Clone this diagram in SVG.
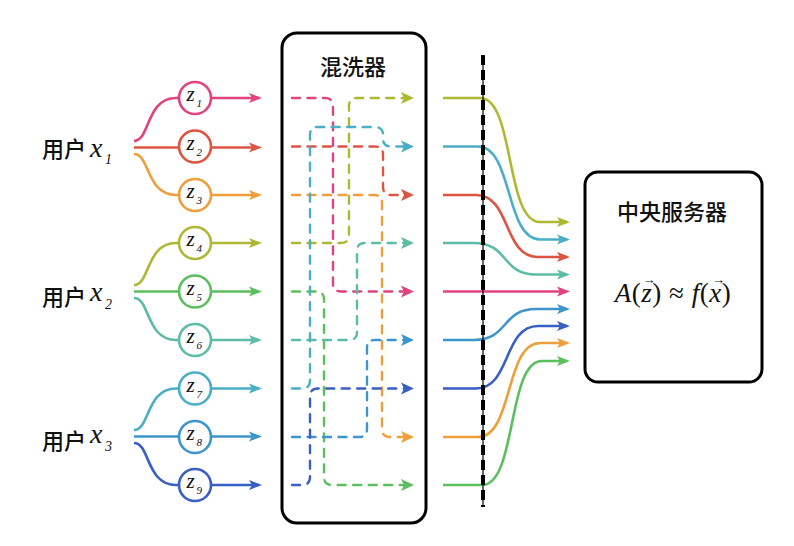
<svg xmlns="http://www.w3.org/2000/svg" width="794" height="546" viewBox="0 0 794 546">
<style>
.cjk{font-family:"Noto Sans CJK SC","Noto Sans",sans-serif;font-size:22px;font-weight:500;fill:#111}
.m{font-family:"Liberation Serif","DejaVu Serif",serif;font-style:italic;fill:#111}
.up{font-family:"Liberation Serif","DejaVu Serif",serif;fill:#111}
.c{fill:none;stroke-width:2.6}
.d{fill:none;stroke-width:2.4;stroke-dasharray:8 7.5;stroke-linecap:round;stroke-linejoin:round}
.node{fill:#fff;stroke-width:2.6}
.box{fill:#fff;stroke:#000;stroke-width:3}
</style>
<defs>
<marker id="a1" markerUnits="userSpaceOnUse" markerWidth="14" markerHeight="12" viewBox="0 0 14 12" refX="10" refY="6" orient="auto"><path d="M0,1 L13,6 L0,11 L3,6 Z" fill="#E0437E"/></marker>
<marker id="a2" markerUnits="userSpaceOnUse" markerWidth="14" markerHeight="12" viewBox="0 0 14 12" refX="10" refY="6" orient="auto"><path d="M0,1 L13,6 L0,11 L3,6 Z" fill="#DD5443"/></marker>
<marker id="a3" markerUnits="userSpaceOnUse" markerWidth="14" markerHeight="12" viewBox="0 0 14 12" refX="10" refY="6" orient="auto"><path d="M0,1 L13,6 L0,11 L3,6 Z" fill="#EE9E3A"/></marker>
<marker id="a4" markerUnits="userSpaceOnUse" markerWidth="14" markerHeight="12" viewBox="0 0 14 12" refX="10" refY="6" orient="auto"><path d="M0,1 L13,6 L0,11 L3,6 Z" fill="#ADB833"/></marker>
<marker id="a5" markerUnits="userSpaceOnUse" markerWidth="14" markerHeight="12" viewBox="0 0 14 12" refX="10" refY="6" orient="auto"><path d="M0,1 L13,6 L0,11 L3,6 Z" fill="#5CBF5E"/></marker>
<marker id="a6" markerUnits="userSpaceOnUse" markerWidth="14" markerHeight="12" viewBox="0 0 14 12" refX="10" refY="6" orient="auto"><path d="M0,1 L13,6 L0,11 L3,6 Z" fill="#5CBCA6"/></marker>
<marker id="a7" markerUnits="userSpaceOnUse" markerWidth="14" markerHeight="12" viewBox="0 0 14 12" refX="10" refY="6" orient="auto"><path d="M0,1 L13,6 L0,11 L3,6 Z" fill="#4AAEC6"/></marker>
<marker id="a8" markerUnits="userSpaceOnUse" markerWidth="14" markerHeight="12" viewBox="0 0 14 12" refX="10" refY="6" orient="auto"><path d="M0,1 L13,6 L0,11 L3,6 Z" fill="#3D95CB"/></marker>
<marker id="a9" markerUnits="userSpaceOnUse" markerWidth="14" markerHeight="12" viewBox="0 0 14 12" refX="10" refY="6" orient="auto"><path d="M0,1 L13,6 L0,11 L3,6 Z" fill="#3A5FC4"/></marker>
</defs>
<rect width="794" height="546" fill="#fff"/>

<g id="shuffler">
<rect class="box" x="282" y="33" width="144" height="490" rx="15"/>
<text class="cjk" x="353" y="75" text-anchor="middle">混洗器</text>
</g>

<g id="server">
<rect class="box" x="585" y="172" width="177" height="210" rx="13"/>
<text class="cjk" x="672" y="219.5" text-anchor="middle">中央服务器</text>
<text class="up" font-size="27" text-anchor="middle"><tspan x="673" y="301.5" letter-spacing="0.5"><tspan class="m">A</tspan>(<tspan class="m">z</tspan>) ≈ <tspan class="m">f</tspan>(<tspan class="m">x</tspan>)</tspan><tspan x="649" y="284" font-size="13">→</tspan><tspan x="718.5" y="284" font-size="13">→</tspan></text>
</g>

<g id="connectors">
<path class="c" stroke="#E0437E" d="M134,141 C150,141 146,98 176,98 H259" marker-end="url(#a1)"/>
<path class="c" stroke="#DD5443" d="M134,147.5 H259" marker-end="url(#a2)"/>
<path class="c" stroke="#EE9E3A" d="M134,154 C150,154 146,195 176,195 H259" marker-end="url(#a3)"/>
<path class="c" stroke="#ADB833" d="M134,285 C150,285 146,243 176,243 H259" marker-end="url(#a4)"/>
<path class="c" stroke="#5CBF5E" d="M134,291.5 H259" marker-end="url(#a5)"/>
<path class="c" stroke="#5CBCA6" d="M134,298 C150,298 146,340 176,340 H259" marker-end="url(#a6)"/>
<path class="c" stroke="#4AAEC6" d="M134,430 C150,430 146,388.5 176,388.5 H259" marker-end="url(#a7)"/>
<path class="c" stroke="#3D95CB" d="M134,436.5 H259" marker-end="url(#a8)"/>
<path class="c" stroke="#3A5FC4" d="M134,443 C150,443 146,485 176,485 H259" marker-end="url(#a9)"/>

<path class="d" stroke="#E0437E" d="M292,98 H325 Q333,98 333,106 V283.5 Q333,291.5 341,291.5 H404" />
<path class="d" stroke="#DD5443" d="M292,146.5 H375 Q383,146.5 383,154.5 V187 Q383,195 391,195 H404" />
<path class="d" stroke="#EE9E3A" d="M292,195 H374 Q382,195 382,203 V429 Q382,437 390,437 H404" />
<path class="d" stroke="#ADB833" d="M292,243 H341 Q349,243 349,235 V106 Q349,98 357,98 H404" />
<path class="d" stroke="#5CBF5E" d="M292,291.5 H316 Q324,291.5 324,299.5 V477 Q324,485 332,485 H404" />
<path class="d" stroke="#5CBCA6" d="M292,340 H349 Q357,340 357,332 V251 Q357,243 365,243 H404" />
<path class="d" stroke="#4AAEC6" d="M292,388.5 H302 Q310,388.5 310,380.5 V135 Q310,127 318,127 H375 Q383,127 383,135 V138.5 Q383,146.5 391,146.5 H404" />
<path class="d" stroke="#3D95CB" d="M292,437 H359 Q367,437 367,429 V348 Q367,340 375,340 H404" />
<path class="d" stroke="#3A5FC4" d="M292,485 H302 Q310,485 310,477 V396.5 Q310,388.5 318,388.5 H404" />
<g stroke="none">
<path d="M401,92 L414,98 L401,104 L404,98 Z" fill="#ADB833"/>
<path d="M401,140.5 L414,146.5 L401,152.5 L404,146.5 Z" fill="#4AAEC6"/>
<path d="M401,189 L414,195 L401,201 L404,195 Z" fill="#DD5443"/>
<path d="M401,237 L414,243 L401,249 L404,243 Z" fill="#5CBCA6"/>
<path d="M401,285.5 L414,291.5 L401,297.5 L404,291.5 Z" fill="#E0437E"/>
<path d="M401,334 L414,340 L401,346 L404,340 Z" fill="#3D95CB"/>
<path d="M401,382.5 L414,388.5 L401,394.5 L404,388.5 Z" fill="#3A5FC4"/>
<path d="M401,431 L414,437 L401,443 L404,437 Z" fill="#EE9E3A"/>
<path d="M401,479 L414,485 L401,491 L404,485 Z" fill="#5CBF5E"/>
</g>

<path class="c" stroke="#ADB833" d="M443,98 H480 C515,98 505,222 540,222 H567" marker-end="url(#a4)"/>
<path class="c" stroke="#4AAEC6" d="M443,146.5 H478 C513,146.5 505,239.5 540,239.5 H567" marker-end="url(#a7)"/>
<path class="c" stroke="#DD5443" d="M443,195 H476 C511,195 503,257 538,257 H567" marker-end="url(#a2)"/>
<path class="c" stroke="#5CBCA6" d="M443,243 H474 C509,243 501,274.5 536,274.5 H567" marker-end="url(#a6)"/>
<path class="c" stroke="#E0437E" d="M443,291.5 H567" marker-end="url(#a1)"/>
<path class="c" stroke="#3D95CB" d="M443,340 H474 C509,340 501,309 536,309 H567" marker-end="url(#a8)"/>
<path class="c" stroke="#3A5FC4" d="M443,388.5 H476 C511,388.5 503,326 538,326 H567" marker-end="url(#a9)"/>
<path class="c" stroke="#EE9E3A" d="M443,437 H478 C513,437 505,343 540,343 H567" marker-end="url(#a3)"/>
<path class="c" stroke="#5CBF5E" d="M443,485 H482 C517,485 507,361 542,361 H567" marker-end="url(#a5)"/>

<line x1="483" y1="55" x2="483" y2="507" stroke="#000" stroke-width="1.2"/>
<line x1="483" y1="55" x2="483" y2="507" stroke="#000" stroke-width="4" stroke-dasharray="10 5"/>
</g>

<g id="user1">
<text class="cjk" x="42" y="156.5">用户</text>
<text class="m" x="90" y="157" font-size="28">x</text>
<text class="m" x="105" y="163.5" font-size="14">1</text>
</g>
<g id="user2">
<text class="cjk" x="42" y="305">用户</text>
<text class="m" x="90" y="300.5" font-size="28">x</text>
<text class="m" x="105" y="308.5" font-size="14">2</text>
</g>
<g id="user3">
<text class="cjk" x="42" y="448.5">用户</text>
<text class="m" x="90" y="442.5" font-size="28">x</text>
<text class="m" x="105" y="451" font-size="14">3</text>
</g>

<g id="z1"><circle class="node" stroke="#E0437E" cx="195" cy="98" r="16"/><text class="m" x="186.5" y="101" font-size="21">z</text><text class="m" x="196.5" y="107" font-size="11">1</text></g>
<g id="z2"><circle class="node" stroke="#DD5443" cx="195" cy="146.5" r="16"/><text class="m" x="186.5" y="149.5" font-size="21">z</text><text class="m" x="196.5" y="155.5" font-size="11">2</text></g>
<g id="z3"><circle class="node" stroke="#EE9E3A" cx="195" cy="195" r="16"/><text class="m" x="186.5" y="198" font-size="21">z</text><text class="m" x="196.5" y="204" font-size="11">3</text></g>
<g id="z4"><circle class="node" stroke="#ADB833" cx="195" cy="243" r="16"/><text class="m" x="186.5" y="246" font-size="21">z</text><text class="m" x="196.5" y="252" font-size="11">4</text></g>
<g id="z5"><circle class="node" stroke="#5CBF5E" cx="195" cy="291.5" r="16"/><text class="m" x="186.5" y="294.5" font-size="21">z</text><text class="m" x="196.5" y="300.5" font-size="11">5</text></g>
<g id="z6"><circle class="node" stroke="#5CBCA6" cx="195" cy="340" r="16"/><text class="m" x="186.5" y="343" font-size="21">z</text><text class="m" x="196.5" y="349" font-size="11">6</text></g>
<g id="z7"><circle class="node" stroke="#4AAEC6" cx="195" cy="388.5" r="16"/><text class="m" x="186.5" y="391.5" font-size="21">z</text><text class="m" x="196.5" y="397.5" font-size="11">7</text></g>
<g id="z8"><circle class="node" stroke="#3D95CB" cx="195" cy="437" r="16"/><text class="m" x="186.5" y="440" font-size="21">z</text><text class="m" x="196.5" y="446" font-size="11">8</text></g>
<g id="z9"><circle class="node" stroke="#3A5FC4" cx="195" cy="485" r="16"/><text class="m" x="186.5" y="488" font-size="21">z</text><text class="m" x="196.5" y="494" font-size="11">9</text></g>
</svg>
